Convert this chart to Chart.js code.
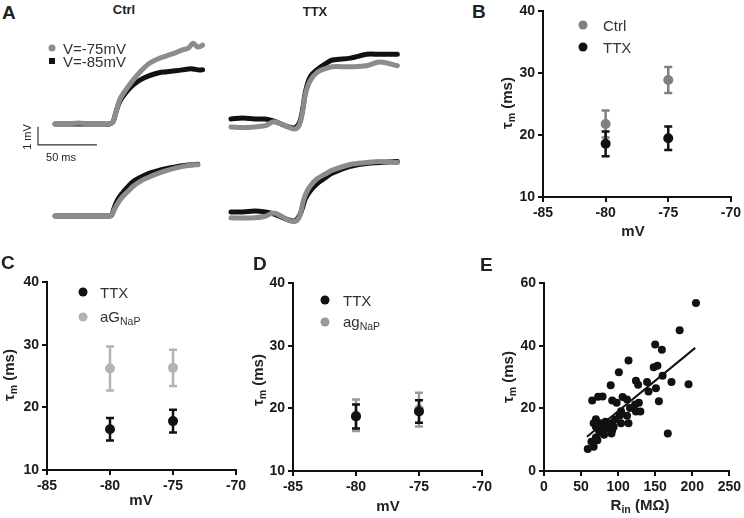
<!DOCTYPE html>
<html>
<head>
<meta charset="utf-8">
<script src="https://cdn.jsdelivr.net/npm/chart.js@4"></script>
<style>
  body { margin: 0; background: #fff; }
  #fig { position: relative; width: 744px; height: 518px; font-family: "Liberation Sans", Arial, sans-serif; color: #222; overflow: hidden; }
  #fig canvas { position: absolute; }
  .t { position: absolute; white-space: nowrap; transform: translate(-50%, -50%); }
  .l { position: absolute; white-space: nowrap; transform: translateY(-50%); }
  .lab { font-weight: bold; font-size: 19px; }
  .ttl { font-weight: bold; font-size: 15px; }
  .rot { transform: translate(-50%, -50%) rotate(-90deg); }
  .leg { font-size: 15px; color: #333; }
  .dot { position: absolute; width: 9px; height: 9px; border-radius: 50%; transform: translate(-50%, -50%); }
  sub { font-size: 70%; vertical-align: -3px; }
</style>
</head>
<body>
<div id="fig">
  <canvas id="ctrlTop" width="190" height="120" style="left:30px;top:30px"></canvas>
  <canvas id="ctrlBot" width="190" height="90" style="left:30px;top:150px"></canvas>
  <canvas id="ttxTop" width="190" height="120" style="left:215px;top:30px"></canvas>
  <canvas id="ttxBot" width="190" height="90" style="left:215px;top:150px"></canvas>
  <canvas id="chartB" width="244" height="240" style="left:500px;top:0px"></canvas>
  <canvas id="chartC" width="250" height="268" style="left:0px;top:250px"></canvas>
  <canvas id="chartD" width="250" height="268" style="left:250px;top:250px"></canvas>
  <canvas id="chartE" width="244" height="268" style="left:500px;top:250px"></canvas>

  <div class="l lab" style="left:2px;top:13px">A</div>
  <div class="t" style="left:124px;top:9px;font-weight:bold;font-size:13px">Ctrl</div>
  <div class="t" style="left:315px;top:11px;font-weight:bold;font-size:13px">TTX</div>
  <div class="dot" style="left:52px;top:48px;width:7px;height:7px;background:#8c8c8c"></div>
  <div class="l" style="left:63px;top:48px;font-size:15px;color:#333">V=-75mV</div>
  <div class="dot" style="left:52px;top:61px;width:6px;height:6px;border-radius:0;background:#111"></div>
  <div class="l" style="left:63px;top:61px;font-size:15px;color:#333">V=-85mV</div>
  <div class="t rot" style="left:27px;top:137px;font-size:11px">1 mV</div>
  <div class="t" style="left:61px;top:157px;font-size:11px">50 ms</div>

  <div class="l lab" style="left:472px;top:12px">B</div>
  <div class="dot" style="left:583px;top:25px;background:#808080"></div>
  <div class="l leg" style="left:603px;top:25px">Ctrl</div>
  <div class="dot" style="left:583px;top:47px;background:#111"></div>
  <div class="l leg" style="left:603px;top:47px">TTX</div>
  <div class="t ttl rot" style="left:507px;top:103px">τ<sub>m</sub> (ms)</div>
  <div class="t ttl" style="left:633px;top:230px">mV</div>

  <div class="l lab" style="left:1px;top:263px">C</div>
  <div class="dot" style="left:83px;top:292px;background:#111"></div>
  <div class="l leg" style="left:100px;top:292px">TTX</div>
  <div class="dot" style="left:83px;top:317px;background:#b3b3b3"></div>
  <div class="l leg" style="left:100px;top:317px">aG<sub>NaP</sub></div>
  <div class="t ttl rot" style="left:9px;top:375px">τ<sub>m</sub> (ms)</div>
  <div class="t ttl" style="left:141px;top:499px">mV</div>

  <div class="l lab" style="left:253px;top:264px">D</div>
  <div class="dot" style="left:325px;top:300px;background:#111"></div>
  <div class="l leg" style="left:343px;top:300px">TTX</div>
  <div class="dot" style="left:325px;top:322px;background:#999"></div>
  <div class="l leg" style="left:343px;top:322px">ag<sub>NaP</sub></div>
  <div class="t ttl rot" style="left:258px;top:380px">τ<sub>m</sub> (ms)</div>
  <div class="t ttl" style="left:388px;top:505px">mV</div>

  <div class="l lab" style="left:480px;top:265px">E</div>
  <div class="t ttl rot" style="left:508px;top:377px">τ<sub>m</sub> (ms)</div>
  <div class="t ttl" style="left:640px;top:505px">R<sub>in</sub> (MΩ)</div>
</div>

<script>
// panel A traces: time (ms) and depolarisation (mV)
const tCtrlTop = [0, 10, 20, 30, 40, 46, 49, 52, 55, 60, 66, 73, 80, 88, 95, 102, 108, 113, 117, 121, 125];
const ctrlTop75 = [0, 0, 0.05, 0, 0, 0, 0.1, 0.7, 1.3, 1.8, 2.3, 2.8, 3.2, 3.45, 3.6, 3.75, 3.9, 4.0, 4.25, 4.05, 4.15];
const ctrlTop85 = [0, 0, 0, 0, 0, 0, 0.1, 0.7, 1.2, 1.65, 2.05, 2.35, 2.55, 2.7, 2.75, 2.8, 2.85, 2.9, 2.9, 2.85, 2.85];
const tCtrlBot = [0, 10, 20, 30, 40, 46, 48, 50, 53, 57, 62, 66, 73, 80, 88, 95, 102, 108, 115, 121];
const ctrlBot75 = [0, 0, 0, 0, 0, 0, 0.03, 0.3, 0.65, 1.0, 1.3, 1.55, 1.85, 2.05, 2.25, 2.4, 2.52, 2.6, 2.68, 2.7];
const ctrlBot85 = [0, 0, 0, 0, 0, 0, 0.05, 0.4, 0.85, 1.2, 1.55, 1.8, 2.05, 2.25, 2.4, 2.5, 2.58, 2.65, 2.7, 2.72];
const tTtx = [0, 10, 20, 29, 36, 42, 48, 54, 58, 61, 63, 67, 73, 80, 86, 101, 115, 126, 141];
const ttxTop75 = [-0.42, -0.45, -0.42, -0.35, -0.15, -0.25, -0.4, -0.53, -0.3, 0.5, 1.3, 2.0, 2.45, 2.65, 2.75, 2.75, 2.8, 3.0, 2.8];
const ttxTop85 = [0, 0.05, 0, 0, -0.1, -0.25, -0.4, -0.47, -0.2, 0.6, 1.4, 2.2, 2.6, 2.9, 3.1, 3.2, 3.4, 3.4, 3.4];
const ttxBot75 = [-0.3, -0.32, -0.3, -0.22, -0.05, -0.2, -0.4, -0.5, -0.25, 0.5, 0.9, 1.35, 1.75, 2.0, 2.2, 2.5, 2.6, 2.65, 2.6];
const ttxBot85 = [0, 0, 0.05, 0, -0.1, -0.25, -0.4, -0.47, -0.2, 0.3, 0.7, 1.1, 1.5, 1.8, 2.05, 2.4, 2.55, 2.6, 2.65];

// panels B-D: holding potential, mean tau_m and SEM
const holdV = [-80, -75];
const bCtrl = [21.8, 28.9], bCtrlErr = [2.2, 2.1];
const bTtx = [18.6, 19.5], bTtxErr = [2.0, 1.9];
const cTtx = [16.5, 17.8], cTtxErr = [1.8, 1.8];
const cAG = [26.2, 26.3], cAGErr = [3.5, 2.9];
const dTtx = [18.7, 19.5], dTtxErr = [1.9, 1.8];
const dAg = [18.9, 19.8], dAgErr = [2.5, 2.7];

// panel E: input resistance (MOhm) vs tau_m (ms)
const rin = [205, 183, 150, 159, 114, 101, 148, 153, 160, 90, 124, 127, 139, 172, 195, 65, 73, 79, 92, 106,
  112, 98, 141, 151, 155, 128, 130, 123, 116, 124, 104, 102, 96, 90, 112, 114, 104, 70, 76, 83,
  72, 79, 85, 92, 94, 75, 81, 91, 70, 72, 64, 67, 59, 167, 74, 70, 79, 87, 67];
const tauE = [53.6, 44.9, 40.4, 38.7, 35.3, 31.5, 33.1, 33.6, 30.4, 27.4, 28.8, 27.5, 28.4, 28.4, 27.7, 22.5, 23.7, 23.8, 22.5, 23.6,
  22.8, 21.8, 25.4, 26.4, 22.3, 21.8, 19.0, 21.2, 20.1, 19.0, 19.1, 17.6, 16.4, 15.2, 17.6, 15.2, 15.2, 16.5, 15.2, 15.7,
  14.3, 13.6, 13.6, 13.0, 14.1, 12.2, 11.6, 12.0, 10.7, 9.8, 9.3, 7.7, 7.0, 12.0, 13.1, 14.1, 12.4, 14.6, 15.2];
const fitX = [58, 204];
const fitY = [10.9, 39.3];

const BLACK = '#111', GREY = '#8c8c8c';
const pts = (xs, ys) => xs.map((x, i) => ({ x, y: ys[i] }));

function traceChart(id, xRange, yRange, sets) {
  new Chart(document.getElementById(id), {
    type: 'scatter',
    data: { datasets: sets.map(s => ({
      data: s.data, borderColor: s.color, borderWidth: s.width || 5,
      showLine: true, pointRadius: 0, tension: s.width ? 0 : 0.35, clip: false,
      borderCapStyle: s.width ? 'butt' : 'round'
    })) },
    options: {
      responsive: false, animation: false, events: [],
      layout: { padding: 0 },
      plugins: { legend: { display: false }, tooltip: { enabled: false } },
      scales: {
        x: { type: 'linear', display: false, min: xRange[0], max: xRange[1] },
        y: { type: 'linear', display: false, min: yRange[0], max: yRange[1] }
      }
    }
  });
}

// scale bar: 50 ms by 1 mV
const scaleBar = [{ x: -14.4, y: -0.15 }, { x: -14.4, y: -1.1 }, { x: 35.6, y: -1.1 }];

traceChart('ctrlTop', [-21.2, 139.8], [-1.37, 4.95], [
  { data: scaleBar, color: '#333', width: 1.2 },
  { data: pts(tCtrlTop, ctrlTop75), color: GREY },
  { data: pts(tCtrlTop, ctrlTop85), color: BLACK }
]);
traceChart('ctrlBot', [-21.2, 139.8], [-1.26, 3.47], [
  { data: pts(tCtrlBot, ctrlBot75), color: GREY },
  { data: pts(tCtrlBot, ctrlBot85), color: BLACK }
]);
traceChart('ttxTop', [-13.56, 147.5], [-1.63, 4.68], [
  { data: pts(tTtx, ttxTop75), color: GREY },
  { data: pts(tTtx, ttxTop85), color: BLACK }
]);
traceChart('ttxBot', [-13.56, 147.5], [-1.47, 3.26], [
  { data: pts(tTtx, ttxBot75), color: GREY },
  { data: pts(tTtx, ttxBot85), color: BLACK }
]);

// error bars drawn through the chart's own scales
const errorBars = {
  id: 'errorBars',
  beforeDatasetDraw(chart, args) {
    const ds = chart.data.datasets[args.index];
    if (!ds.err) return;
    const { ctx, scales: { x, y } } = chart;
    ctx.save();
    ctx.strokeStyle = ds.backgroundColor;
    ctx.lineWidth = 2.5;
    ds.data.forEach((p, i) => {
      const px = x.getPixelForValue(p.x);
      const top = y.getPixelForValue(p.y + ds.err[i]);
      const bot = y.getPixelForValue(p.y - ds.err[i]);
      ctx.beginPath();
      ctx.moveTo(px, top); ctx.lineTo(px, bot);
      ctx.moveTo(px - 4, top); ctx.lineTo(px + 4, top);
      ctx.moveTo(px - 4, bot); ctx.lineTo(px + 4, bot);
      ctx.stroke();
    });
    ctx.restore();
  }
};

function axis(min, max, step, size, isX) {
  return {
    type: 'linear', min, max,
    ticks: { stepSize: step, color: '#1a1a1a', font: { family: 'Liberation Sans', weight: 'bold', size: 14 }, padding: 3 },
    grid: { drawOnChartArea: false, drawTicks: true, tickLength: 5, color: '#111', lineWidth: 2 },
    border: { display: true, color: '#111', width: 2 },
    afterFit: s => { if (isX) s.height = size; else s.width = size; }
  };
}

function meanChart(id, padding, xHeight, sets) {
  new Chart(document.getElementById(id), {
    type: 'scatter',
    data: { datasets: sets.map(s => ({
      data: pts(holdV, s.mean), err: s.err,
      backgroundColor: s.color, borderColor: s.color, pointRadius: 5, pointBorderWidth: 0
    })) },
    options: {
      responsive: false, animation: false, events: [],
      layout: { padding },
      plugins: { legend: { display: false }, tooltip: { enabled: false } },
      scales: {
        x: axis(-85, -70, 5, xHeight, true),
        y: axis(10, 40, 10, 40, false)
      }
    },
    plugins: [errorBars]
  });
}

meanChart('chartB', { top: 9, left: 3, right: 13, bottom: 0 }, 43, [
  { mean: bTtx, err: bTtxErr, color: BLACK },
  { mean: bCtrl, err: bCtrlErr, color: '#808080' }
]);
meanChart('chartC', { top: 32, left: 7, right: 14, bottom: 0 }, 48, [
  { mean: cTtx, err: cTtxErr, color: BLACK },
  { mean: cAG, err: cAGErr, color: '#b3b3b3' }
]);
meanChart('chartD', { top: 33, left: 3, right: 18, bottom: 0 }, 47, [
  { mean: dTtx, err: dTtxErr, color: BLACK },
  { mean: dAg, err: dAgErr, color: '#999' }
]);

new Chart(document.getElementById('chartE'), {
  type: 'scatter',
  data: { datasets: [
    { data: pts(fitX, fitY), showLine: true, borderColor: '#111', borderWidth: 2, pointRadius: 0 },
    { data: pts(rin, tauE), backgroundColor: BLACK, borderColor: BLACK, pointRadius: 4, pointBorderWidth: 0 }
  ] },
  options: {
    responsive: false, animation: false, events: [],
    layout: { padding: { top: 33, left: 4, right: 12, bottom: 0 } },
    plugins: { legend: { display: false }, tooltip: { enabled: false } },
    scales: {
      x: axis(0, 250, 50, 47, true),
      y: axis(0, 60, 20, 40, false)
    }
  }
});
</script>
</body>
</html>
